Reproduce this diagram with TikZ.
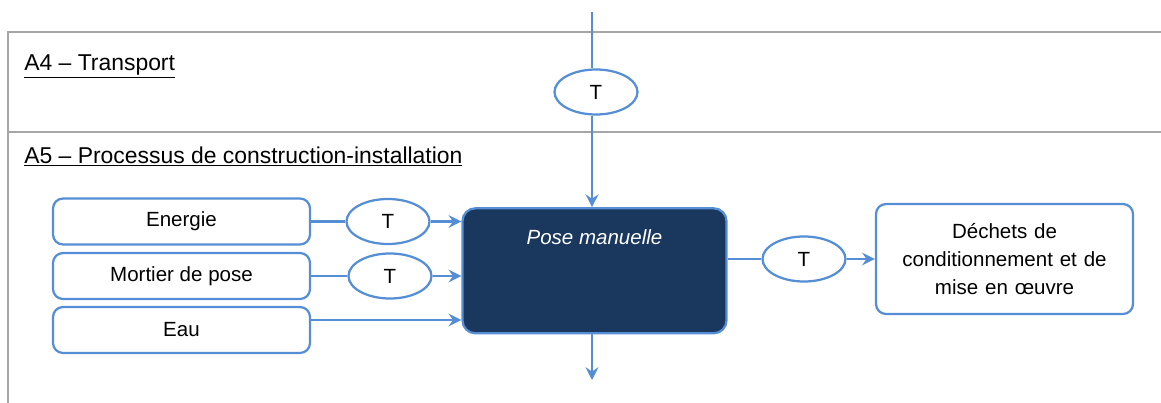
\documentclass[tikz,border=0pt]{standalone}
\usepackage{fontspec}
\setmainfont{Liberation Sans}
\usepackage{xcolor}
\usetikzlibrary{arrows.meta,shapes.geometric}
\definecolor{flowblue}{HTML}{558ED5}
\definecolor{posenavy}{HTML}{1A375E}
\definecolor{framegray}{HTML}{A6A6A6}

\begin{document}
\begin{tikzpicture}[
    font=\fontsize{14.6}{19.6}\selectfont,
    frame/.style={line width=1.5pt,framegray},
    flow/.style={line width=1.6pt,flowblue},
    flowarrow/.style={flow,-{Stealth[length=3.2mm,width=3.2mm,inset=1.1mm]}},
    inbox/.style={draw=flowblue,line width=1.6pt,rounded corners=2.5mm,fill=white,minimum width=6.425cm,minimum height=1.15cm,inner sep=0pt},
    tpoint/.style={draw=flowblue,line width=1.6pt,ellipse,fill=white,minimum width=2.075cm,minimum height=1.125cm,inner sep=0pt},
    posebox/.style={draw=flowblue,line width=1.6pt,rounded corners=3.2mm,fill=posenavy,minimum width=6.6cm,minimum height=3.125cm,inner sep=0pt},
    heading/.style={anchor=base west,inner sep=0pt,font=\fontsize{16.3}{19.6}\selectfont}
  ]
            \useasboundingbox (0, 0) rectangle (29.025, -10.075);

            \draw[frame] (29.025, -0.8) -- (0.2, -0.8) -- (0.2, -10.075);
            \draw[frame] (0.2, -3.3) -- (29.025, -3.3);
            \node[heading] (a4) at (0.6, -1.775) {\underline{A4 -- Transport}};
            \node[heading] (a5) at (0.6, -4.075) {\underline{A5 -- Processus de construction-installation}};

            \node[posebox] (pose) at (14.8625, -6.77) {};
            \node[text=white,font=\fontsize{14.6}{19.6}\selectfont\itshape] (posetext) at ([yshift=-0.75cm]pose.north) {Pose manuelle};

            \node[inbox] (energie) at (4.5375, -5.5375) {Energie};
            \node[inbox] (mortier) at (4.5375, -6.9) {Mortier de pose};
            \node[inbox] (eau) at (4.5375, -8.25) {Eau};

            \node[tpoint] (tA) at (14.9, -2.3) {T};
            \node[tpoint] (tE) at (9.7, -5.5375) {T};
            \node[tpoint] (tM) at (9.75, -6.9) {T};
            \node[tpoint] (tD) at (20.1, -6.475) {T};

            \node[inbox,minimum height=2.75cm,text width=5.6cm,align=center] (dechets) at (25.1125, -6.475) {D\'echets de\\conditionnement et de\\mise en \oe uvre};

            \coordinate (amont) at (14.8, -0.3);
            \coordinate (aval) at (14.8, -9.5);

            \draw[flow] (amont) -- (amont |- tA.north);
            \draw[flowarrow] (amont |- tA.south) -- (amont |- pose.north);
            \draw[flowarrow] (amont |- pose.south) -- (aval);

            \draw[flow] (energie) -- (tE);
            \draw[flowarrow] (tE) -- (pose.west |- tE);
            \draw[flow] (mortier) -- (tM);
            \draw[flowarrow] (tM) -- (pose.west |- tM);
            \draw[flowarrow] ([yshift=0.25cm]eau.east) -- ([yshift=0.25cm]eau.east -| pose.west);

            \draw[flow] (pose.east |- tD) -- (tD);
            \draw[flowarrow] (tD) -- (dechets);
\end{tikzpicture}
\end{document}
